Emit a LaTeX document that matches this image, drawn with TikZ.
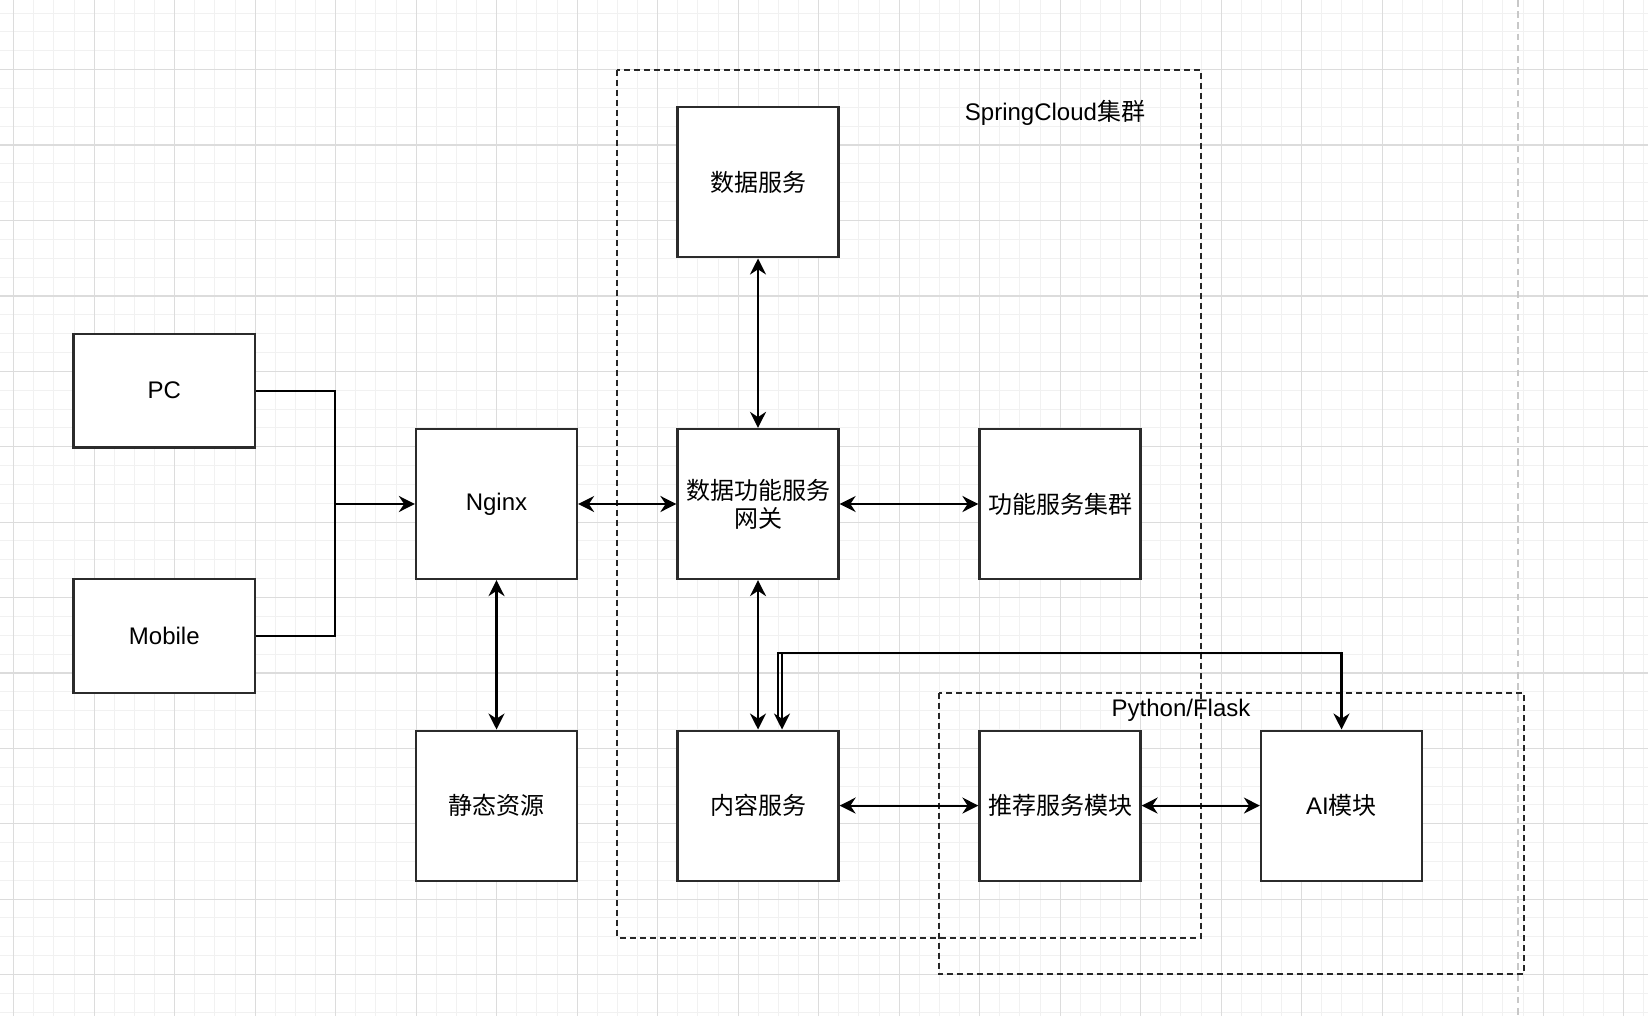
\documentclass[tikz,border=0pt]{standalone}
\usepackage{fontspec}
\setmainfont{Liberation Sans}
\newfontfamily\cjk{Noto Sans CJK SC}
\usetikzlibrary{arrows.meta,calc}
\definecolor{gminor}{HTML}{F1F1F1}
\definecolor{gmajor}{HTML}{DCDCDC}
\definecolor{boxline}{HTML}{2B2B2B}
\definecolor{guide}{HTML}{C8C8C8}
\begin{document}
\begin{tikzpicture}[x=0.5pt,y=-0.5pt,
  >={Stealth[length=8pt,width=8pt,inset=2.6pt]},
  box/.style={draw=boxline,line width=1.1pt,fill=white,minimum width=80.5pt,minimum height=75pt,inner sep=0pt,align=center,font=\fontsize{12}{14}\selectfont},
  client/.style={box,minimum width=90.75pt,minimum height=56.7pt},
  link/.style={line width=1.1pt,black},
  group/.style={draw=black!85,line width=1pt,dash pattern=on 3pt off 2pt},
  glabel/.style={font=\fontsize{12}{14}\selectfont,inner sep=0pt},
  gridminor/.style={gminor,line width=0.5pt},
  gridmajor/.style={gmajor,line width=0.6pt}]
\useasboundingbox (0,0) rectangle (1648,1016);
\fill[white] (0,0) rectangle (1648,1016);
% grid
\foreach \i in {0,...,85} \draw[gridminor] ({-66.8+\i*20.125},0) -- ({-66.8+\i*20.125},1016);
\foreach \j in {0,...,55} \draw[gridminor] (0,{-5.7+\j*18.85}) -- (1648,{-5.7+\j*18.85});
\foreach \i in {0,...,21} \draw[gridmajor] ({-66.8+\i*80.5},0) -- ({-66.8+\i*80.5},1016);
\foreach \j in {0,...,14} \draw[gridmajor] (0,{-5.7+\j*75.4}) -- (1648,{-5.7+\j*75.4});
% guide line
\draw[guide,line width=1pt,dash pattern=on 3.3pt off 2.3pt] (1517.5,0) -- (1517.5,1016);
% groups
\draw[group] (617.3,70.4) rectangle (1201.3,937.5);
\draw[group] (938.5,692.5) rectangle (1523.6,974.3);
% nodes
\node[client] (pc) at (164.3,390.7) {PC};
\node[client] (mob) at (164.3,636) {Mobile};
\node[box] (nginx) at (496.5,504) {Nginx};
\node[box] (static) at (496.5,805.6) {\cjk 静态资源};
\node[box] (ds) at (758,182.4) {\cjk 数据服务};
\node[box] (gw) at (758,504) {\cjk 数据功能服务\\\cjk 网关};
\node[box] (fc) at (1060,504) {\cjk 功能服务集群};
\node[box] (cs) at (758,805.6) {\cjk 内容服务};
\node[box] (rec) at (1060,805.6) {\cjk 推荐服务模块};
\node[box] (ai) at (1341.5,805.6) {AI{\cjk 模块}};
% connectors
\coordinate (jn) at (335.3,504);
\draw[link] (pc.east) -| (jn);
\draw[link] (mob.east) -| (jn);
\draw[link,->] (jn) -- (nginx.west);
\draw[link,<->] (nginx) -- (gw);
\draw[link,<->] (nginx) -- (static);
\draw[link,<->] (ds) -- (gw);
\draw[link,<->] (gw) -- (fc);
\draw[link,<->] (gw) -- (cs);
\draw[link,<->] (cs) -- (rec);
\draw[link,<->] (rec) -- (ai);
\draw[link,<->] ([xshift=12pt]cs.north) -- ++(0,-76.5) -| (ai.north);
\draw[link] ([xshift=10pt,yshift=5pt]cs.north) -- ++(0,-66.5) -- ++(4,0);
% group labels
\node[glabel] (sclabel) at (1055,113) {SpringCloud{\cjk 集群}};
\node[glabel] (pflabel) at (1181,710.5) {Python/Flask};
\end{tikzpicture}
\end{document}
